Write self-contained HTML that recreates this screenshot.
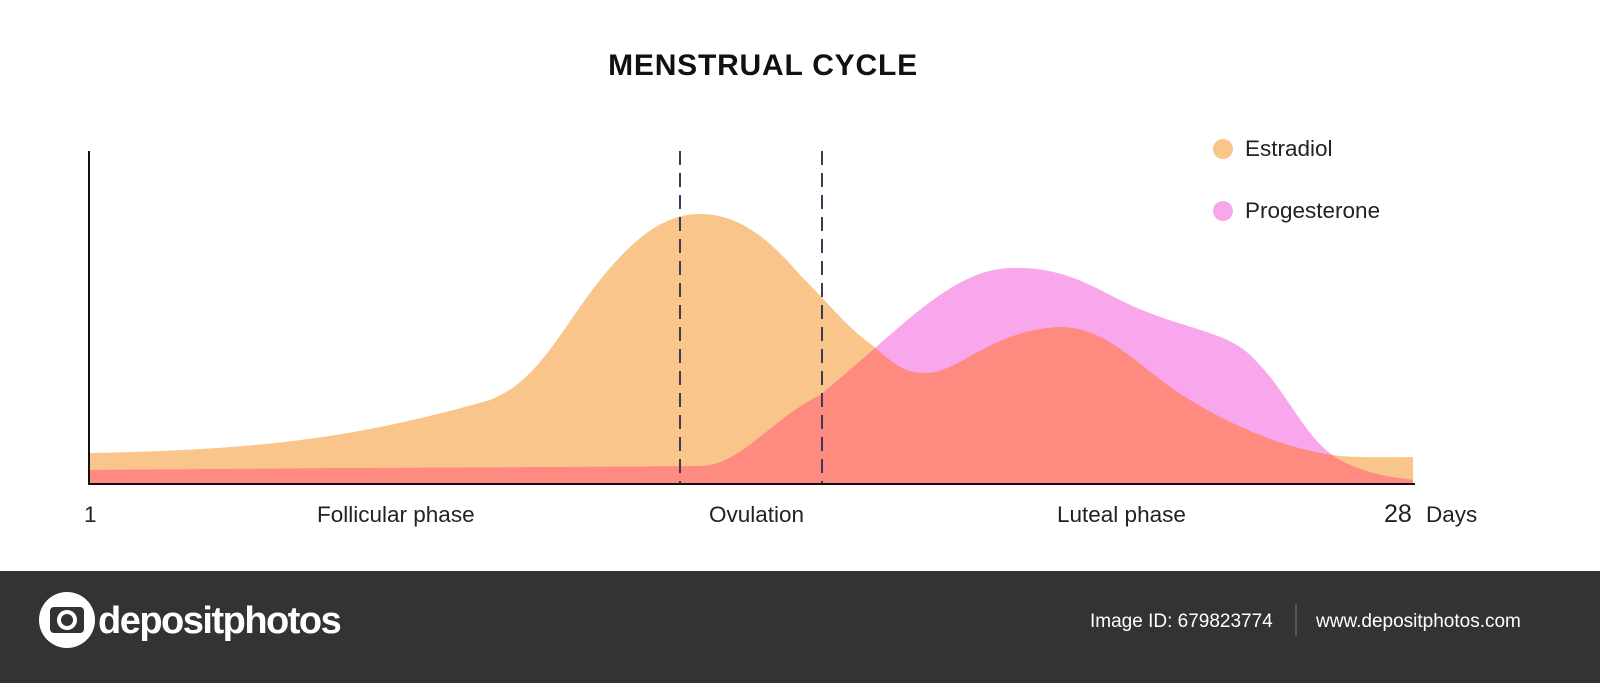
<!DOCTYPE html>
<html><head><meta charset="utf-8"><style>
html,body{margin:0;padding:0;background:#fff;}
body{width:1600px;height:683px;position:relative;overflow:hidden;font-family:"Liberation Sans",sans-serif;}
</style></head><body>
<svg width="1600" height="683" viewBox="0 0 1600 683" style="position:absolute;left:0;top:0">
<defs>
<clipPath id="pc"><path d="M90,470 C300,468 600,467 700,466 C740,466 770,420 820,395 C900,330 950,270 1010,268 C1060,266 1090,285 1120,300 C1180,330 1230,330 1255,360 C1290,395 1305,440 1340,460 C1370,476 1400,478 1413,480 L1413,484 L90,484 Z"/></clipPath>
</defs>
<path d="M90,453 C250,450 350,440 490,400 C540,380 560,330 600,280 C640,230 670,214 700,214 C740,214 770,240 800,275 C830,305 850,330 872,345 C895,365 905,373 925,373 C960,373 990,330 1060,327 C1110,327 1140,370 1190,400 C1240,430 1290,450 1340,456 C1370,458 1400,457 1413,457 L1413,484 L90,484 Z" fill="#f9c58a"/>
<path d="M90,470 C300,468 600,467 700,466 C740,466 770,420 820,395 C900,330 950,270 1010,268 C1060,266 1090,285 1120,300 C1180,330 1230,330 1255,360 C1290,395 1305,440 1340,460 C1370,476 1400,478 1413,480 L1413,484 L90,484 Z" fill="#f9a7ec"/>
<path d="M90,453 C250,450 350,440 490,400 C540,380 560,330 600,280 C640,230 670,214 700,214 C740,214 770,240 800,275 C830,305 850,330 872,345 C895,365 905,373 925,373 C960,373 990,330 1060,327 C1110,327 1140,370 1190,400 C1240,430 1290,450 1340,456 C1370,458 1400,457 1413,457 L1413,484 L90,484 Z" fill="#fe8a80" clip-path="url(#pc)"/>
<line x1="680" y1="151" x2="680" y2="484" stroke="#3a3a55" stroke-width="2" stroke-dasharray="14,8"/>
<line x1="822" y1="151" x2="822" y2="484" stroke="#3a3a55" stroke-width="2" stroke-dasharray="14,8"/>
<line x1="89" y1="151" x2="89" y2="485" stroke="#111" stroke-width="2"/>
<line x1="88" y1="484" x2="1415" y2="484" stroke="#111" stroke-width="2"/>
<text x="763" y="75" text-anchor="middle" font-family="Liberation Sans" font-weight="bold" font-size="30" letter-spacing="0.8" fill="#111">MENSTRUAL CYCLE</text>
<circle cx="1223" cy="149" r="10" fill="#f9c58a"/>
<text x="1245" y="156" font-family="Liberation Sans" font-size="22.5" fill="#222">Estradiol</text>
<circle cx="1223" cy="211" r="10" fill="#f9a7ec"/>
<text x="1245" y="218" font-family="Liberation Sans" font-size="22.5" fill="#222">Progesterone</text>
<g font-family="Liberation Sans" font-size="22.5" fill="#222">
<text x="84" y="522">1</text>
<text x="317" y="522">Follicular phase</text>
<text x="709" y="522">Ovulation</text>
<text x="1057" y="522">Luteal phase</text>
<text x="1384" y="522" font-size="25">28</text>
<text x="1426" y="522">Days</text>
</g>
<rect x="0" y="571" width="1600" height="112" fill="#333"/>
<circle cx="67" cy="620" r="28" fill="#fff"/>
<rect x="50" y="607" width="34" height="26" rx="4" fill="#333"/>
<circle cx="67" cy="620" r="10" fill="#fff"/>
<circle cx="67" cy="620" r="6" fill="#333"/>
<text x="98" y="633" font-family="Liberation Sans" font-weight="bold" font-size="38" fill="#fff" letter-spacing="-1.5">depositphotos</text>
<text x="1090" y="627" font-family="Liberation Sans" font-size="19" fill="#fff">Image ID: 679823774</text>
<line x1="1296" y1="604" x2="1296" y2="636" stroke="#777" stroke-width="1"/>
<text x="1316" y="627" font-family="Liberation Sans" font-size="19" fill="#fff">www.depositphotos.com</text>
</svg>
</body></html>
